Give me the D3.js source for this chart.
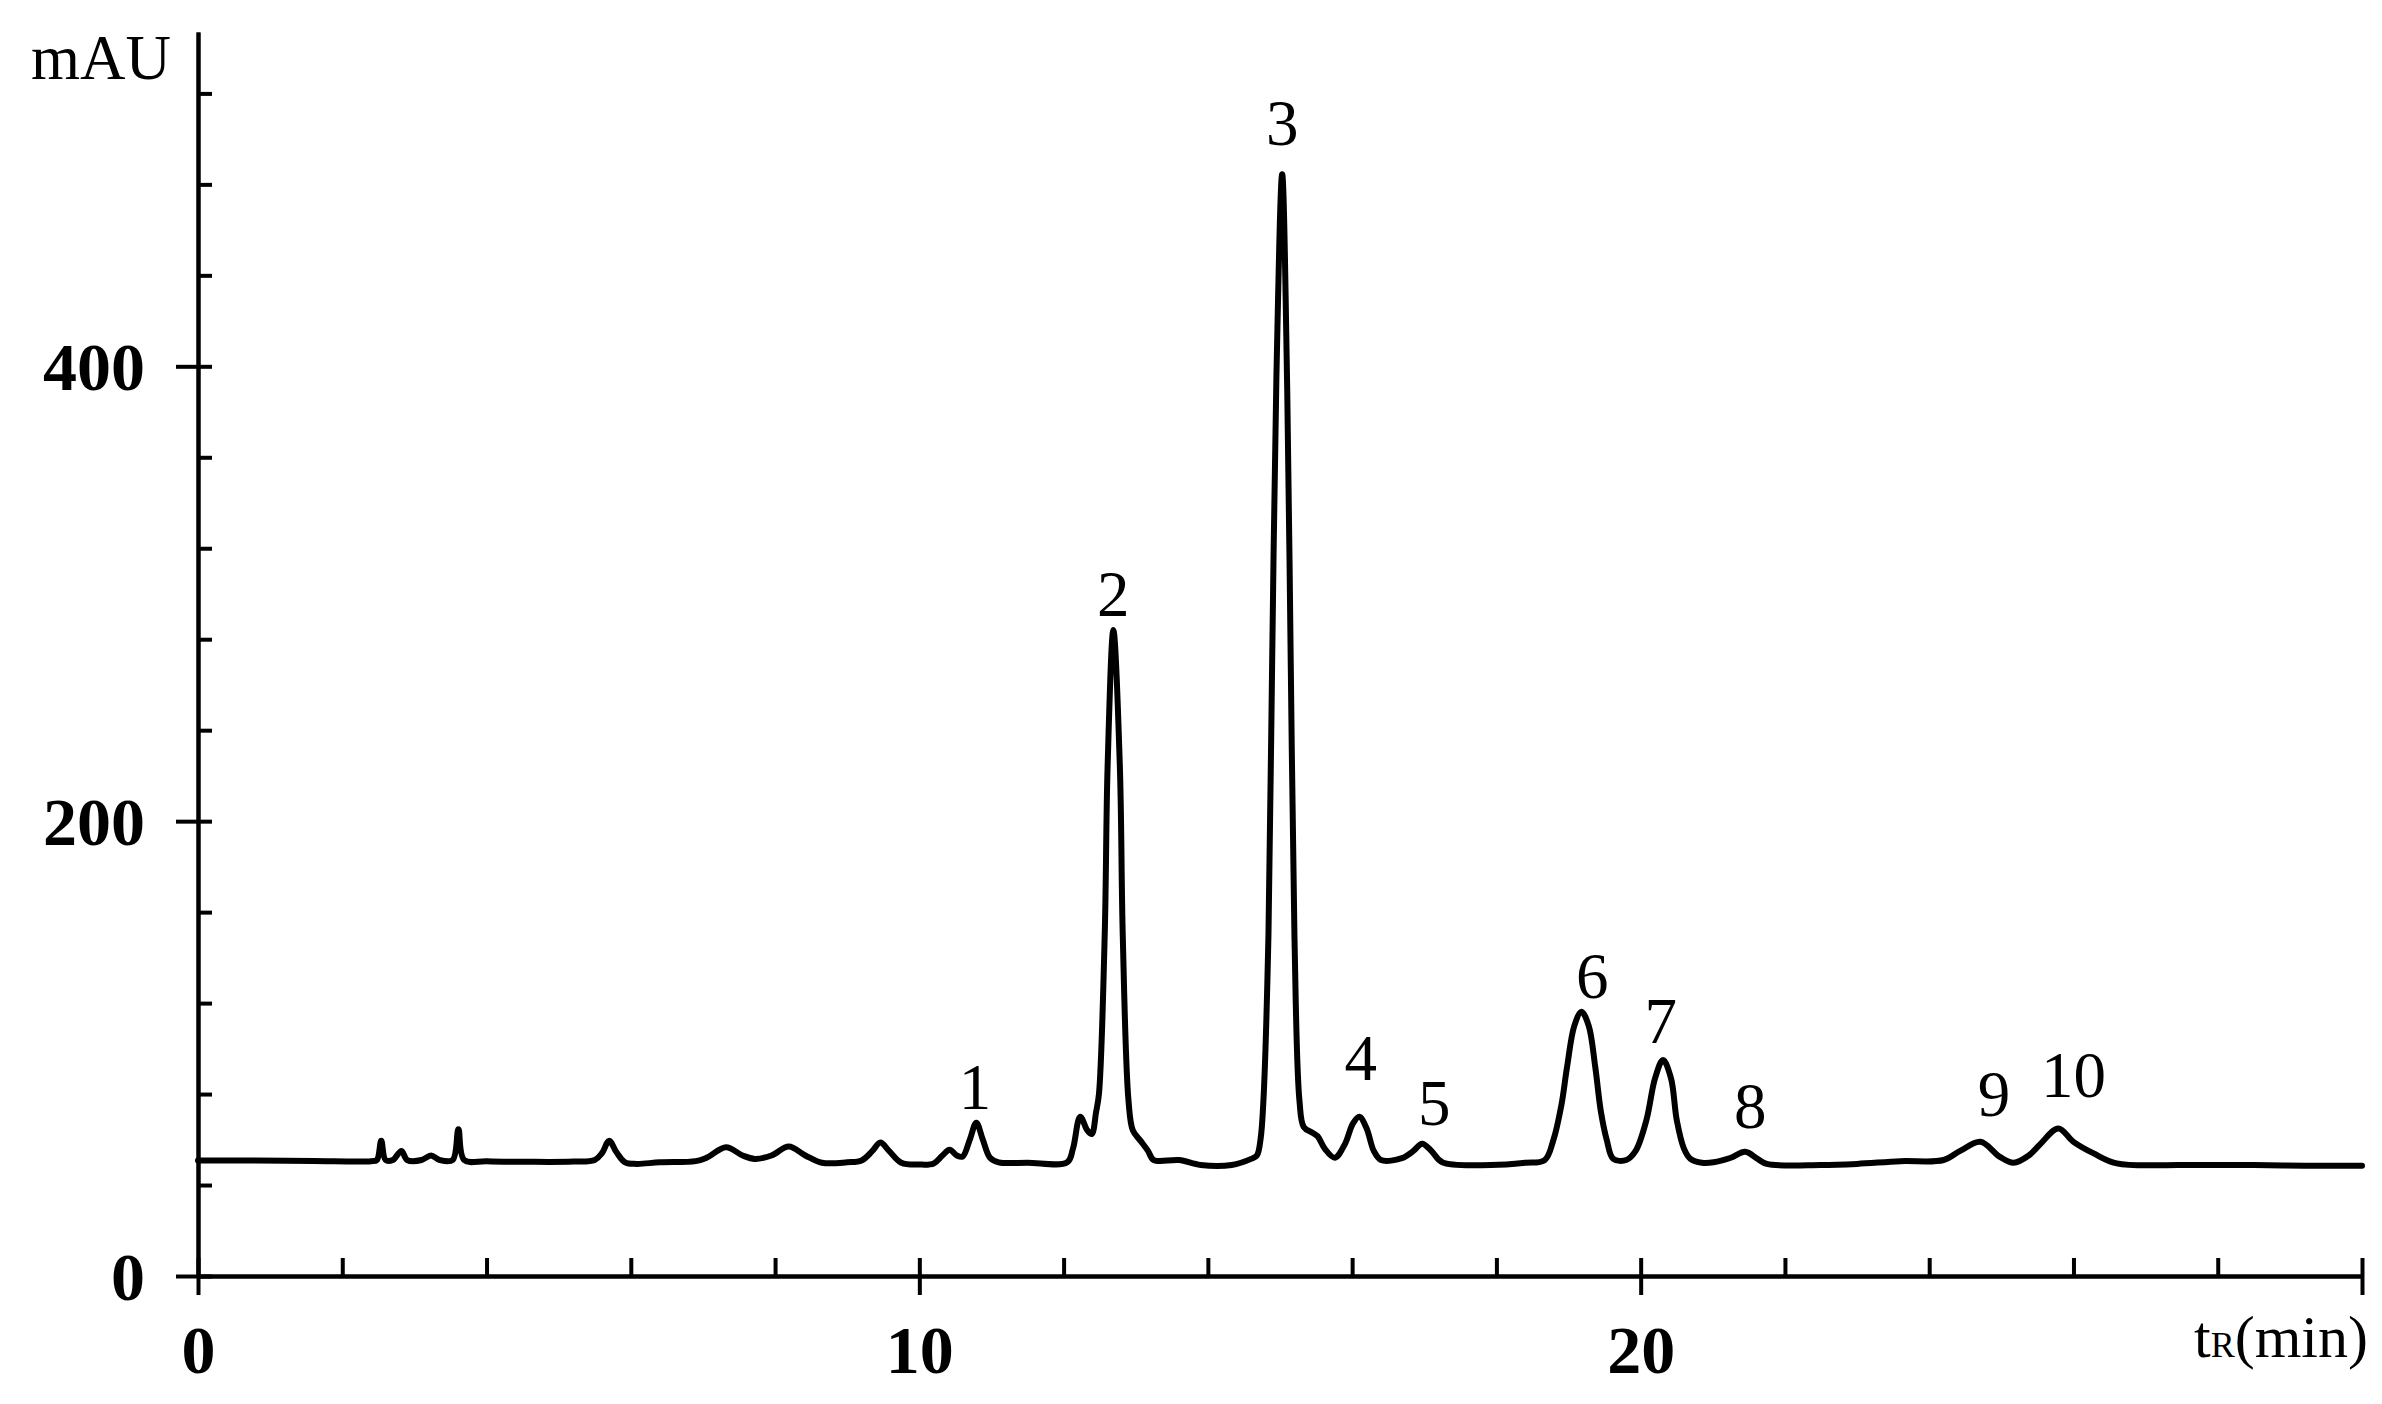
<!DOCTYPE html>
<html><head><meta charset="utf-8">
<script src="https://cdn.jsdelivr.net/npm/d3@7"></script>
<style>html,body{margin:0;padding:0;background:#fff;} svg{display:block;}</style>
</head><body>
<svg id="chart" width="2382" height="1404"></svg>
<script>
// Retention time (min)
const times = [
  0.00, 0.80, 1.60, 2.40, 2.48, 2.54, 2.60, 2.70, 2.82, 2.90, 3.10, 3.23, 3.35, 3.53, 3.61, 3.69,
  4.00, 4.60, 5.20, 5.50, 5.60, 5.70, 5.80, 5.92, 6.08, 6.40, 6.90, 7.05, 7.32, 7.55, 7.72, 7.95,
  8.19, 8.42, 8.65, 9.00, 9.20, 9.35, 9.46, 9.58, 9.75, 10.00, 10.20, 10.32, 10.42, 10.52, 10.60,
  10.70, 10.79, 10.88, 10.98, 11.10, 11.50, 12.05, 12.13, 12.23, 12.33, 12.39, 12.45, 12.49, 12.57,
  12.61, 12.69, 12.78, 12.82, 12.90, 12.96, 13.07, 13.17, 13.25, 13.60, 13.90, 14.33, 14.60, 14.68,
  14.73, 14.77, 14.84, 14.89, 14.95, 15.03, 15.10, 15.15, 15.20, 15.27, 15.33, 15.45, 15.52, 15.62,
  15.76, 15.90, 16.01, 16.10, 16.20, 16.30, 16.40, 16.69, 16.85, 16.97, 17.10, 17.25, 17.93, 18.40,
  18.67, 18.79, 18.90, 18.98, 19.08, 19.18, 19.28, 19.37, 19.45, 19.53, 19.62, 19.80, 19.93, 20.08,
  20.20, 20.31, 20.42, 20.50, 20.60, 20.69, 20.85, 21.01, 21.25, 21.45, 21.62, 21.75, 22.50, 23.00,
  23.60, 24.20, 24.43, 24.71, 24.98, 25.17, 25.38, 25.54, 25.79, 26.00, 26.28, 26.60, 27.50, 28.50,
  29.20, 30.00
];
// Absorbance (mAU)
const signal = [
  50.8, 50.8, 50.6, 50.5, 51.0, 59.5, 51.0, 51.0, 55.0, 51.0, 51.0, 53.0, 51.0, 51.0, 64.5, 51.0,
  50.5, 50.2, 50.3, 51.0, 54.0, 59.5, 54.5, 50.0, 49.3, 50.0, 50.5, 52.0, 56.6, 53.0, 51.5, 53.0,
  56.9, 53.0, 49.8, 50.0, 50.8, 55.0, 58.7, 55.0, 49.8, 49.0, 49.5, 53.0, 55.5, 53.0, 52.5,
  60.0, 67.4, 60.0, 52.0, 50.0, 49.8, 50.0, 56.0, 70.0, 64.0, 62.4, 72.0, 80.0, 150.0,
  224.0, 284.0, 224.0, 150.0, 77.0, 64.0, 59.3, 55.0, 51.0, 51.0, 48.8, 48.8, 51.5, 53.0,
  60.0, 77.0, 150.0, 267.0, 395.0, 484.5, 390.0, 267.0, 150.0, 77.0, 65.5, 63.0, 61.5, 56.0,
  52.0, 58.0, 67.0, 70.0, 65.0, 55.0, 51.0, 51.8, 55.0, 58.2, 55.0, 50.0, 48.8, 49.8,
  51.0, 59.8, 75.0, 92.0, 110.0, 116.2, 110.0, 92.0, 72.0, 59.8, 51.5, 51.0, 55.0, 68.6,
  87.0, 95.0, 87.0, 68.6, 56.0, 51.5, 49.8, 50.0, 52.0, 54.6, 51.5, 49.3, 48.8, 49.3,
  50.5, 51.0, 55.0, 59.0, 52.4, 49.8, 53.0, 58.0, 64.9, 59.0, 53.9, 49.5, 48.8, 48.8,
  48.5, 48.5
];
const xMajorTicks = [0, 10, 20, 30];
const xTickLabels = ["0", "10", "20", ""];
const xMinorTicks = [0, 2, 4, 6, 8, 10, 12, 14, 16, 18, 20, 22, 24, 26, 28, 30];
const yMajorTicks = [0, 200, 400];
const yTickLabels = ["0", "200", "400"];
const yMinorTicks = [0, 40, 80, 120, 160, 200, 240, 280, 320, 360, 400, 440, 480, 520];
const peakNames = ["1", "2", "3", "4", "5", "6", "7", "8", "9", "10"];
const peakLabelTime = [10.77, 12.69, 15.03, 16.12, 17.14, 19.33, 20.28, 21.52, 24.90, 26.00];
const peakLabelValue = [73.4, 290.2, 497.3, 86.2, 66.4, 122.2, 102.5, 65.1, 70.4, 78.7];

const svg = d3.select("#chart");
const FONT = "'Liberation Serif', 'Times New Roman', serif";
const x = d3.scaleLinear().domain([0, 30]).range([198, 2362]);
const y = d3.scaleLinear().domain([0, 547]).range([1276, 32]);

function styleAxis(g) {
  g.selectAll("path.domain").attr("stroke", "#000").attr("stroke-width", 4);
  g.selectAll(".tick line").attr("stroke", "#000").attr("stroke-width", 4);
  g.selectAll("text").attr("font-family", FONT).attr("font-weight", "bold")
    .attr("font-size", 68).attr("fill", "#000");
}

// X axis: minor inward ticks, major ticks cross outward
const gxMinor = svg.append("g").attr("transform", "translate(0,1276)")
  .call(d3.axisBottom(x).tickValues(xMinorTicks).tickSizeInner(-18).tickSizeOuter(0).tickFormat(""));
styleAxis(gxMinor);
const gxMajor = svg.append("g").attr("transform", "translate(0,1276)")
  .call(d3.axisBottom(x).tickValues(xMajorTicks).tickSizeInner(19).tickSizeOuter(0)
    .tickFormat((d, i) => xTickLabels[i]));
styleAxis(gxMajor);
gxMajor.selectAll("text").attr("y", 97).attr("dy", 0);

// Y axis
const gyMinor = svg.append("g").attr("transform", "translate(198,0)")
  .call(d3.axisLeft(y).tickValues(yMinorTicks).tickSizeInner(-14).tickSizeOuter(0).tickFormat(""));
styleAxis(gyMinor);
const gyMajor = svg.append("g").attr("transform", "translate(198,0)")
  .call(d3.axisLeft(y).tickValues(yMajorTicks).tickSizeInner(22).tickSizeOuter(0)
    .tickFormat((d, i) => yTickLabels[i]));
styleAxis(gyMajor);
gyMajor.selectAll("text").attr("x", -53).attr("dy", "0.34em");

// Chromatogram trace
const pts = times.map((t, i) => ({ t: t, v: signal[i] }));
const line = d3.line().x(d => x(d.t)).y(d => y(d.v)).curve(d3.curveCatmullRom.alpha(0.5));
svg.append("path").datum(pts).attr("d", line)
  .attr("fill", "none").attr("stroke", "#000").attr("stroke-width", 6)
  .attr("stroke-linejoin", "round").attr("stroke-linecap", "round");

// Peak labels
svg.append("g").selectAll("text").data(peakNames).join("text")
  .attr("x", (d, i) => x(peakLabelTime[i]))
  .attr("y", (d, i) => y(peakLabelValue[i]))
  .attr("text-anchor", "middle")
  .attr("font-family", FONT).attr("font-size", 65).attr("fill", "#000")
  .text(d => d);

// Axis titles
svg.append("text").attr("x", 31).attr("y", 79)
  .attr("font-family", FONT).attr("font-size", 63).attr("fill", "#000").text("mAU");

const xt = svg.append("text").attr("x", 2194).attr("y", 1357)
  .attr("font-family", FONT).attr("font-size", 60).attr("fill", "#000");
xt.append("tspan").text("t");
xt.append("tspan").attr("font-size", 36).text("R");
xt.append("tspan").text("(min)");
</script>
</body></html>
